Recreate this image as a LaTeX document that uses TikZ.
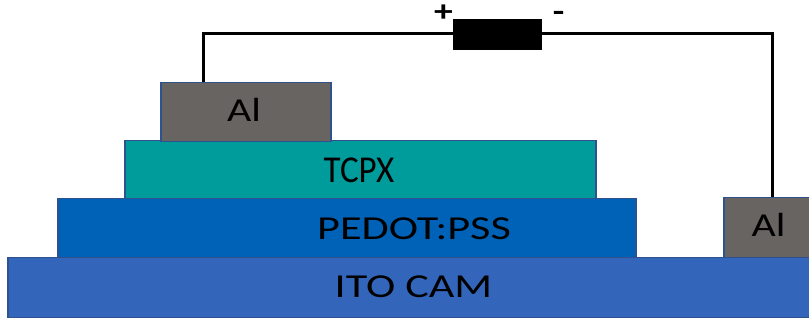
\documentclass[tikz,border=0pt]{standalone}
\usepackage{fontspec}
\usepackage{graphicx}
\setmainfont{Carlito}
\definecolor{itoc}{HTML}{3366BB}
\definecolor{pedotc}{HTML}{0062B6}
\definecolor{tcpxc}{HTML}{009C9C}
\definecolor{alc}{HTML}{686462}
\definecolor{edgec}{HTML}{2F528F}
\tikzset{
  layer/.style={draw=edgec, line width=1.5pt, rectangle, inner sep=0pt, anchor=north west},
  lbl/.style={inner sep=0pt, anchor=base, text=black, font=\fontsize{33.5}{36}\selectfont},
  bigl/.style={inner sep=0pt, anchor=base, text=black, font=\fontsize{38}{40}\selectfont},
  sign/.style={inner sep=0pt, anchor=base, text=black, font=\fontsize{30}{32}\selectfont\bfseries},
  wire/.style={line width=3pt, black, line join=miter},
  resbox/.style={fill=black, draw=black, rectangle, minimum width=88pt, minimum height=30pt, inner sep=0pt}
}
\begin{document}
\begin{tikzpicture}[x=1pt, y=-1pt]
\useasboundingbox (0,0) rectangle (809,320);
\clip (0,0) rectangle (809,320);
% layers
\node[layer, fill=itoc, minimum width=805pt, minimum height=60pt] (ito) at (7,257) {};
\node[layer, fill=pedotc, minimum width=578pt, minimum height=59pt] (pedot) at (57,198) {};
\node[layer, fill=tcpxc, minimum width=471pt, minimum height=58pt] (tcpx) at (124,140) {};
\node[layer, fill=alc, minimum width=170pt, minimum height=59pt] (al1) at (160,82) {};
\node[layer, fill=alc, minimum width=90pt, minimum height=60pt] (al2) at (723,197) {};
% labels
\node[lbl] (itol) at (413.5,298) {\scalebox{1.32}[1]{ITO CAM}};
\node[lbl] (pedotl) at (414,240) {\scalebox{1.32}[1]{PEDOT:PSS}};
\node[bigl] (tcpxl) at (359,183) {\scalebox{0.92}[1]{TCPX}};
\node[lbl] (al1l) at (244,122) {\scalebox{1.25}[1]{Al}};
\node[lbl] (al2l) at (768.5,237) {\scalebox{1.25}[1]{Al}};
% circuit
\node[resbox] (res) at (497,34) {};
\node[sign] (plus) at (443.5,21.5) {\scalebox{1.25}[1]{+}};
\node[sign] (minus) at (558.5,21.5) {\scalebox{1.25}[1]{-}};
\coordinate (c1) at (203,82);
\coordinate (c2) at (772,197);
\draw[wire] (c1) |- (res.west);
\draw[wire] (res.east) -| (c2);
\end{tikzpicture}
\end{document}
